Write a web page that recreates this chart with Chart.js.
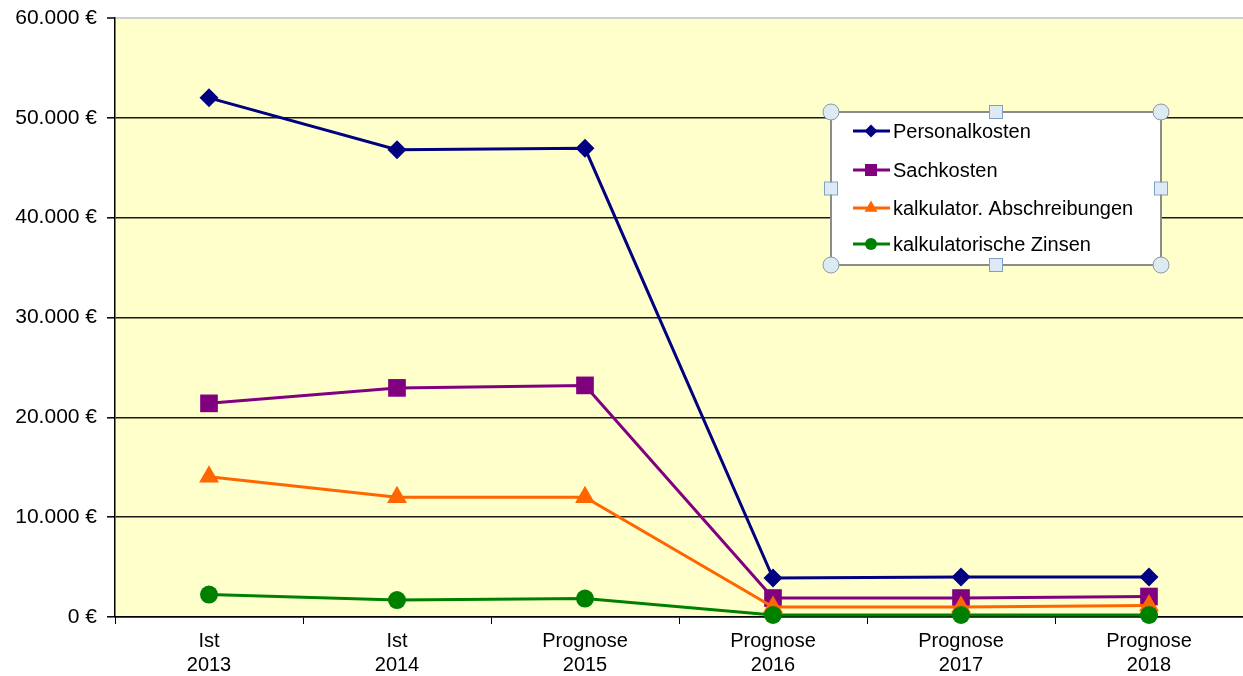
<!DOCTYPE html>
<html><head><meta charset="utf-8">
<script src="https://cdn.jsdelivr.net/npm/chart.js@4"></script>
<style>html,body{margin:0;padding:0;background:#fff}#wrap{width:1243px;height:676px}</style>
</head><body><div id="wrap"><canvas id="c" width="1243" height="676"></canvas></div>
<script>
const categories = [['Ist','2013'],['Ist','2014'],['Prognose','2015'],['Prognose','2016'],['Prognose','2017'],['Prognose','2018']];
const personalkosten = [52000, 46800, 46950, 3900, 4000, 4000];
const sachkosten = [21400, 22950, 23200, 1900, 1900, 2050];
const abschreibungen = [14050, 12000, 12000, 1000, 1000, 1150];
const zinsen = [2250, 1700, 1850, 200, 200, 200];
const seriesNames = ['Personalkosten','Sachkosten','kalkulator. Abschreibungen','kalkulatorische Zinsen'];
const yTicks = [0, 10000, 20000, 30000, 40000, 50000, 60000];

const FONT = 'Liberation Sans, Arial, sans-serif';

const bgPlugin = {
  id: 'bg',
  beforeDraw(chart) {
    const a = chart.chartArea, ctx = chart.ctx;
    ctx.save();
    ctx.fillStyle = '#FFFFCC';
    ctx.fillRect(a.left, a.top, a.right - a.left, a.bottom - a.top);
    ctx.restore();
  }
};

function drawHandleCircle(ctx, x, y) {
  ctx.beginPath(); ctx.arc(x, y, 8, 0, Math.PI * 2);
  ctx.fillStyle = '#DCEBF2'; ctx.fill();
  ctx.lineWidth = 1; ctx.strokeStyle = '#8A9AA8'; ctx.stroke();
}
function drawHandleSquare(ctx, x, y) {
  ctx.fillStyle = '#DDEAF6'; ctx.fillRect(x - 6, y - 6, 12, 12);
  ctx.lineWidth = 1; ctx.strokeStyle = '#7FA0C4'; ctx.strokeRect(x - 6.5, y - 6.5, 13, 13);
}

const legendPlugin = {
  id: 'boxLegend',
  afterDraw(chart) {
    const ctx = chart.ctx;
    const L = 831, T = 112, R = 1161, B = 265;
    ctx.save();
    ctx.fillStyle = '#fff';
    ctx.fillRect(L, T, R - L, B - T);
    ctx.strokeStyle = '#8C8C8C'; ctx.lineWidth = 2;
    ctx.strokeRect(L, T, R - L, B - T);
    const rows = [131, 170, 208, 244];
    const radii = [6.5, 8.5, 7.5, 6];
    chart.data.datasets.forEach((ds, i) => {
      const y = rows[i];
      ctx.strokeStyle = ds.borderColor; ctx.lineWidth = 3;
      ctx.beginPath(); ctx.moveTo(853, y); ctx.lineTo(890, y); ctx.stroke();
      ctx.fillStyle = ds.backgroundColor;
      ctx.strokeStyle = ds.borderColor;
      Chart.helpers.drawPoint(ctx, {pointStyle: ds.pointStyle, radius: radii[i], borderWidth: 0}, 871, y);
      ctx.fillStyle = '#000';
      ctx.font = '20px ' + FONT;
      ctx.textBaseline = 'middle';
      ctx.fillText(ds.label, 893, y + 1);
    });
    [[L,T],[R,T],[L,B],[R,B]].forEach(p => drawHandleCircle(ctx, p[0], p[1]));
    [[(L+R)/2,T],[(L+R)/2,B],[L,(T+B)/2],[R,(T+B)/2]].forEach(p => drawHandleSquare(ctx, p[0], p[1]));
    ctx.restore();
  }
};

function mk(label, data, color, style, r, order) {
  return {
    label, data, borderColor: color, backgroundColor: color,
    pointBackgroundColor: color, pointBorderColor: color,
    pointStyle: style, pointRadius: r, pointHoverRadius: r,
    borderWidth: 3, pointBorderWidth: 0, tension: 0, clip: false, order
  };
}

new Chart(document.getElementById('c'), {
  type: 'line',
  data: {
    labels: categories,
    datasets: [
      mk(seriesNames[0], personalkosten, '#000080', 'rectRot', 9.5, 3),
      mk(seriesNames[1], sachkosten, '#800080', 'rect', 12.5, 2),
      mk(seriesNames[2], abschreibungen, '#FF6600', 'triangle', 11.5, 1),
      mk(seriesNames[3], zinsen, '#008000', 'circle', 9, 0)
    ]
  },
  options: {
    responsive: false, animation: false, devicePixelRatio: 1,
    layout: { autoPadding: false, padding: { top: 18, right: 0, bottom: 0, left: 0 } },
    plugins: { legend: { display: false }, tooltip: { enabled: false } },
    scales: {
      x: {
        offset: true,
        grid: { offset: true, drawOnChartArea: false, drawTicks: true, tickLength: 7, tickColor: '#000', tickWidth: 1 },
        border: { color: '#000', width: 1.5 },
        ticks: { color: '#000', font: { family: FONT, size: 20, lineHeight: 1.2 }, padding: 5, maxRotation: 0, autoSkip: false },
        afterFit(s) { s.height = 59; s.paddingLeft = 0; s.paddingRight = 0; }
      },
      y: {
        min: 0, max: 60000,
        afterBuildTicks(s) { s.ticks = yTicks.map(v => ({ value: v })); },
        grid: {
          color: ctx => (ctx.tick && ctx.tick.value === 60000) ? '#CFCFCF' : '#1a1a1a',
          lineWidth: ctx => (ctx.tick && ctx.tick.value === 60000) ? 2 : 1.6,
          drawTicks: true, tickLength: 8, tickColor: '#000', tickWidth: 1.5
        },
        border: { color: '#000', width: 1.5 },
        ticks: {
          color: '#000', font: { family: FONT, size: 21 }, padding: 10,
          callback: v => String(v).replace(/\B(?=(\d{3})+(?!\d))/g, '.') + ' €'
        },
        afterFit(s) { s.width = 115; s.paddingTop = 0; s.paddingBottom = 0; }
      }
    }
  },
  plugins: [bgPlugin, legendPlugin]
});
</script>
</body></html>
